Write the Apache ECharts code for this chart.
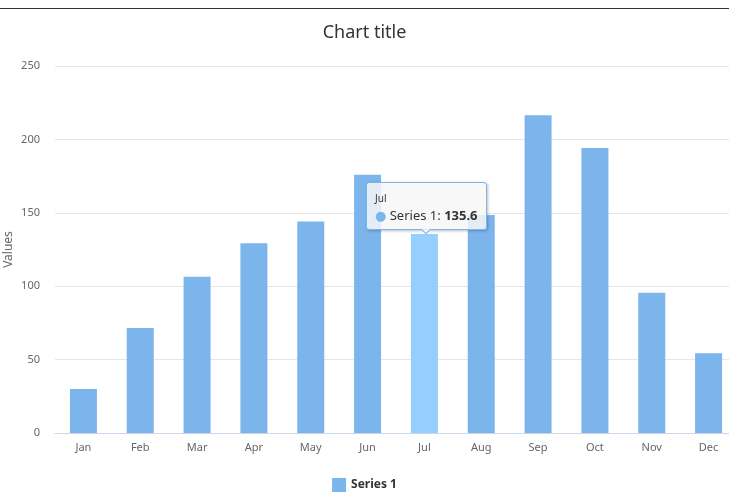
<!DOCTYPE html>
<html>
<head>
<meta charset="utf-8">
<script src="https://cdn.jsdelivr.net/npm/echarts@6/dist/echarts.min.js"></script>
<style>
html,body{margin:0;padding:0;background:#fff;overflow:hidden;}
#c{width:729px;height:500px;}
</style>
</head>
<body>
<div id="c"></div>
<script>
const categories = ['Jan','Feb','Mar','Apr','May','Jun','Jul','Aug','Sep','Oct','Nov','Dec'];
const seriesName = 'Series 1';
const values = [29.9, 71.5, 106.4, 129.2, 144.0, 176.0, 135.6, 148.5, 216.4, 194.1, 95.6, 54.4];
const yTicks = [0, 50, 100, 150, 200, 250];
const titleText = 'Chart title';
const yAxisName = 'Values';
const hoverIndex = 6;

const FONT = '"Noto Sans", "DejaVu Sans", sans-serif';
const chart = echarts.init(document.getElementById('c'));
chart.setOption({
  animation: false,
  textStyle: { fontFamily: FONT },
  title: {
    text: titleText, left: 'center', top: 19,
    textStyle: { fontSize: 18, fontWeight: 'normal', color: '#333333', fontFamily: FONT }
  },
  graphic: [{
    type: 'line', shape: { x1: 0, y1: 8.5, x2: 729, y2: 8.5 },
    style: { stroke: '#333333', lineWidth: 1.2 }
  }],
  grid: { left: 55, width: 682, top: 66, height: 367, containLabel: false, outerBoundsMode: 'none' },
  legend: {
    bottom: 3, left: 'center', itemWidth: 14, itemHeight: 14, icon: 'rect',
    textStyle: { fontSize: 12, fontWeight: 'bold', color: '#333333', fontFamily: FONT },
    data: [seriesName]
  },
  tooltip: {
    trigger: 'item', position: 'top',
    backgroundColor: 'rgba(247,247,247,0.85)', borderColor: '#7cb5ec', borderWidth: 1,
    borderRadius: 3, padding: [6, 8, 5, 8],
    textStyle: { fontSize: 13, color: '#333333', fontFamily: FONT, lineHeight: 17 },
    extraCssText: 'box-shadow: 1px 1px 3px rgba(0,0,0,0.25); margin-top: 6px; margin-left: 2px;',
    formatter: p => '<span style="font-size:10px">' + p.name + '</span><br/>' +
      '<span style="color:#7cb5ec">\u25CF</span> ' + p.seriesName + ': <b>' + p.value + '</b>'
  },
  xAxis: {
    type: 'category', data: categories,
    axisLine: { lineStyle: { color: '#ccd6eb' } },
    axisTick: { length: 10, lineStyle: { color: '#ccd6eb' } },
    axisLabel: { color: '#666666', fontSize: 11, margin: 9, fontFamily: FONT }
  },
  yAxis: {
    type: 'value', min: yTicks[0], max: yTicks[yTicks.length - 1], interval: yTicks[1] - yTicks[0],
    name: yAxisName, nameLocation: 'middle', nameRotate: 90, nameGap: 40, nameMoveOverlap: false,
    nameTextStyle: { color: '#666666', fontSize: 12, fontFamily: FONT },
    axisLine: { show: false }, axisTick: { show: false },
    axisLabel: { color: '#666666', fontSize: 11, margin: 15, fontFamily: FONT },
    splitLine: { lineStyle: { color: '#e6e6e6' } }
  },
  series: [{
    name: seriesName, type: 'bar', data: values, barWidth: 27,
    itemStyle: { color: '#7cb5ec' },
    emphasis: { itemStyle: { color: '#95ceff' } }
  }]
});
setTimeout(() => {
  chart.dispatchAction({ type: 'highlight', seriesIndex: 0, dataIndex: hoverIndex });
  chart.dispatchAction({ type: 'showTip', seriesIndex: 0, dataIndex: hoverIndex });
}, 50);
</script>
</body>
</html>
